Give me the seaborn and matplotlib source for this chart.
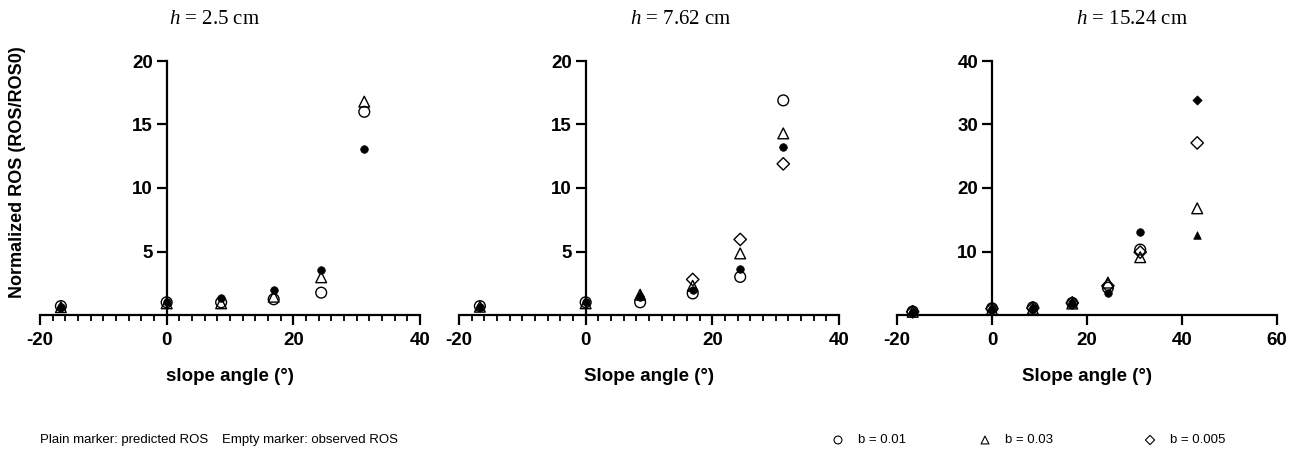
import numpy as np
import pandas as pd
import matplotlib
matplotlib.use("Agg")
import matplotlib.pyplot as plt
from matplotlib.ticker import MultipleLocator, NullLocator
import seaborn as sns

sns.set_style("white")
plt.rcParams['font.family'] = ['Liberation Sans', 'DejaVu Sans']
plt.rcParams['mathtext.fontset'] = 'custom'
plt.rcParams['mathtext.it'] = 'Liberation Serif:italic'
plt.rcParams['mathtext.rm'] = 'Liberation Serif'
plt.rcParams['axes.unicode_minus'] = False
plt.rcParams['text.color'] = 'black'
plt.rcParams['axes.labelcolor'] = 'black'
plt.rcParams['xtick.color'] = 'black'
plt.rcParams['ytick.color'] = 'black'

# ---------------- data ----------------
slope = [-16.7, 0, 8.6, 16.9, 24.4, 31.2]
slope3 = [-16.7, 0, 8.6, 16.9, 24.4, 31.2, 43.2]

titles = ["$h$ = 2.5 cm", "$h$ = 7.62 cm", "$h$ = 15.24 cm"]
xlabels = ["slope angle (°)", "Slope angle (°)", "Slope angle (°)"]

# panel 1 (h = 2.5 cm)
p1_pred_circle = [0.66, 1.0, 1.31, 1.97, 3.54, 13.1]
p1_obs_circle = [0.70, 1.0, 1.0, 1.24, 1.76, 16.0]
p1_obs_tri = [0.62, 0.92, 0.92, 1.44, 2.97, 16.8]

# panel 2 (h = 7.62 cm)
p2_pred_circle = [0.66, 1.0, 1.4, 2.0, 3.6, 13.2]
p2_pred_tri_x = [8.6]
p2_pred_tri = [1.65]
p2_obs_circle = [0.70, 1.0, 1.0, 1.7, 3.0, 16.9]
p2_obs_tri = [0.65, 0.92, 1.6, 2.3, 4.85, 14.3]
p2_obs_dia_x = [16.9, 24.4, 31.2]
p2_obs_dia = [2.8, 5.95, 11.9]

# panel 3 (h = 15.24 cm)
p3_pred_circle = [0.5, 1.0, 1.15, 1.85, 3.5, 13.1]
p3_pred_tri_x = [43.2]
p3_pred_tri = [12.6]
p3_pred_dia_x = [43.2]
p3_pred_dia = [33.9]
p3_obs_circle = [0.55, 1.05, 1.2, 1.9, 4.3, 10.3]
p3_obs_tri = [0.5, 0.9, 1.0, 1.8, 5.1, 9.1, 16.8]
p3_obs_dia = [0.5, 1.0, 1.1, 1.9, 4.6, 9.9, 27.1]

legend_labels = ["b = 0.01", "b = 0.03", "b = 0.005"]

# ---------------- figure ----------------
W, H = 1300, 453
fig = plt.figure(figsize=(W / 100, H / 100), dpi=100)

def ax_at(x0, x1, y_top, y_bot):
    return fig.add_axes([x0 / W, 1 - y_bot / H, (x1 - x0) / W, (y_bot - y_top) / H])

axes = [ax_at(40, 420, 61, 315), ax_at(459, 839, 61, 315), ax_at(897, 1277, 61, 315)]

OPEN = 60
FILL = 30

def open_pts(ax, x, y, marker, s=OPEN):
    sns.scatterplot(x=x, y=y, ax=ax, marker=marker, s=s, facecolor='none',
                    edgecolor='black', linewidth=1.0, clip_on=False, zorder=3)
    ax.collections[-1].set_facecolor('none')
    ax.collections[-1].set_edgecolor('black')

def fill_pts(ax, x, y, marker, s=FILL):
    sns.scatterplot(x=x, y=y, ax=ax, marker=marker, s=s, color='black',
                    edgecolor='black', linewidth=0.5, clip_on=False, zorder=4)

# panel 1
ax = axes[0]
open_pts(ax, slope, p1_obs_circle, 'o')
open_pts(ax, slope, p1_obs_tri, '^')
fill_pts(ax, slope, p1_pred_circle, 'o')

# panel 2
ax = axes[1]
open_pts(ax, slope, p2_obs_circle, 'o')
open_pts(ax, slope, p2_obs_tri, '^')
open_pts(ax, p2_obs_dia_x, p2_obs_dia, 'D', s=40)
fill_pts(ax, slope, p2_pred_circle, 'o')
fill_pts(ax, p2_pred_tri_x, p2_pred_tri, '^')

# panel 3
ax = axes[2]
open_pts(ax, slope, p3_obs_circle, 'o')
open_pts(ax, slope3, p3_obs_tri, '^')
open_pts(ax, slope3, p3_obs_dia, 'D', s=40)
fill_pts(ax, slope, p3_pred_circle, 'o')
fill_pts(ax, p3_pred_tri_x, p3_pred_tri, '^')
fill_pts(ax, p3_pred_dia_x, p3_pred_dia, 'D', s=22)

limits = [((-20, 40), (0, 20), 5), ((-20, 40), (0, 20), 5), ((-20, 60), (0, 40), 10)]
for i, ax in enumerate(axes):
    (xl, yl, ystep) = limits[i]
    ax.set_xlim(*xl)
    ax.set_ylim(*yl)
    ax.set_facecolor('none')
    for s in ['top', 'right']:
        ax.spines[s].set_visible(False)
    ax.spines['left'].set_position(('data', 0))
    ax.spines['bottom'].set_position(('data', 0))
    for s in ['left', 'bottom']:
        ax.spines[s].set_linewidth(1.6)
        ax.spines[s].set_color('black')
    ax.xaxis.set_major_locator(MultipleLocator(20))
    if i < 2:
        ax.xaxis.set_minor_locator(MultipleLocator(2))
    else:
        ax.xaxis.set_minor_locator(NullLocator())
    ax.set_yticks(np.arange(ystep, yl[1] + 0.01, ystep))
    ax.tick_params(axis='x', which='major', direction='out', length=7,
                   width=1.6, color='black', labelsize=13.5, pad=5,
                   bottom=True, labelcolor='black')
    ax.tick_params(axis='y', which='major', direction='out', length=7,
                   width=1.6, color='black', labelsize=13.5, pad=3,
                   left=True, labelcolor='black')
    ax.tick_params(axis='x', which='minor', direction='out', length=4,
                   width=1.3, color='black', bottom=True)
    for lab in ax.get_xticklabels() + ax.get_yticklabels():
        lab.set_fontweight('bold')
    ax.set_xlabel(xlabels[i], fontsize=13.5, fontweight='bold', color='black')
    ax.xaxis.set_label_coords(0.5, -0.21)
    ax.set_ylabel('')
    ax.grid(False)

# titles
for xc, t in zip([215, 681, 1132], titles):
    fig.text(xc / W, 1 - 20 / H, t, ha='center', va='center',
             fontsize=15, family='Liberation Serif', color='black')

# y label
fig.text(18 / W, 1 - 172 / H, "Normalized ROS (ROS/ROS0)", rotation=90,
         ha='center', va='center', fontsize=13, fontweight='bold', color='black')

# footnotes
yb = 1 - 440 / H
FS = 9.5
fig.text(40 / W, yb, "Plain marker: predicted ROS", ha='left', va='center', fontsize=FS)
fig.text(222 / W, yb, "Empty marker: observed ROS", ha='left', va='center', fontsize=FS)

# legend (manual)
leg_ax = fig.add_axes([0, 0, 1, 1], facecolor='none')
leg_ax.set_xlim(0, W)
leg_ax.set_ylim(H, 0)
leg_ax.axis('off')
leg_x = [838, 985, 1150]
leg_y = [440, 440, 440]
leg_m = ['o', '^', 'D']
leg_s = [32, 32, 22]
for x, y, m, s, lab in zip(leg_x, leg_y, leg_m, leg_s, legend_labels):
    sns.scatterplot(x=[x], y=[y], ax=leg_ax, marker=m, s=s, facecolor='none',
                    edgecolor='black', linewidth=0.8, clip_on=False)
    leg_ax.collections[-1].set_facecolor('none')
    leg_ax.text(x + 20, y, lab, ha='left', va='center', fontsize=FS)

fig.savefig("out.png", dpi=100)
